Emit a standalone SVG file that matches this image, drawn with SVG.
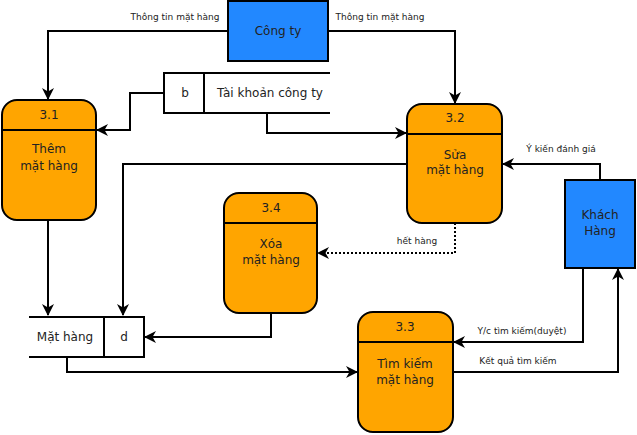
<svg xmlns="http://www.w3.org/2000/svg" width="637" height="435" viewBox="0 0 637 435">
<defs>
<marker id="arr" markerWidth="12" markerHeight="12" viewBox="0 0 12 12" refX="11" refY="6" orient="auto" markerUnits="userSpaceOnUse">
<path d="M0,0 L12,6 L0,12 L3.5,6 z" fill="#000"/>
</marker>
<style>
.proc{fill:#FFA500;stroke:#000;stroke-width:2}
.ent{fill:#2288FF;stroke:#000;stroke-width:2}
.ln{fill:none;stroke:#000;stroke-width:2}
.edge{fill:none;stroke:#000;stroke-width:2;marker-end:url(#arr)}
.dot{stroke-dasharray:2 2}
.t{font-family:"DejaVu Sans",sans-serif;font-size:12px;fill:#222;text-anchor:middle}
.lb{font-family:"DejaVu Sans",sans-serif;font-size:9px;fill:#222;text-anchor:middle}
</style>
</defs>
<rect width="637" height="435" fill="#fff"/>
<g id="connectors">
<path class="edge" d="M228,31 H48 V99"/>
<text class="lb" x="175" y="20">Thông tin mặt hàng</text>
<path class="edge" d="M328,31 H455 V103"/>
<text class="lb" x="380" y="20">Thông tin mặt hàng</text>
<path class="edge" d="M164,93 H130 V130 H97"/>
<path class="edge" d="M267,113 V133 H406"/>
<path class="edge" d="M407,164 H123 V315"/>
<path class="edge" d="M600,180 V164 H503"/>
<text class="lb" x="561" y="152">Ý kiến đánh giá</text>
<path class="edge dot" d="M455,223 V253 H318"/>
<text class="lb" x="417" y="244">hết hàng</text>
<path class="edge" d="M271,313 V337 H145"/>
<path class="edge" d="M48,220 V315"/>
<path class="edge" d="M67,357 V372 H357"/>
<path class="edge" d="M583,268 V342 H454"/>
<text class="lb" x="522" y="334">Y/c tìm kiếm(duyệt)</text>
<path class="edge" d="M453,372 H618 V269"/>
<text class="lb" x="518" y="364">Kết quả tìm kiếm</text>
</g>
<g id="congty">
<rect class="ent" x="228" y="1" width="100" height="60"/>
<text class="t" x="278" y="35">Công ty</text>
</g>
<g id="khachhang">
<rect class="ent" x="565" y="180" width="70" height="88"/>
<text class="t" x="600" y="219">Khách</text>
<text class="t" x="600" y="235">Hàng</text>
</g>
<g id="p31">
<rect class="proc" x="2" y="100" width="94" height="120" rx="15"/>
<line class="ln" x1="2" y1="130" x2="96" y2="130"/>
<text class="t" x="49" y="119">3.1</text>
<text class="t" x="49" y="153">Thêm</text>
<text class="t" x="49" y="170">mặt hàng</text>
</g>
<g id="p32">
<rect class="proc" x="407" y="104" width="95" height="119" rx="15"/>
<line class="ln" x1="407" y1="134" x2="502" y2="134"/>
<text class="t" x="455" y="122">3.2</text>
<text class="t" x="455" y="159">Sửa</text>
<text class="t" x="455" y="174">mặt hàng</text>
</g>
<g id="p34">
<rect class="proc" x="224" y="193" width="93" height="120" rx="15"/>
<line class="ln" x1="224" y1="223" x2="317" y2="223"/>
<text class="t" x="271" y="212">3.4</text>
<text class="t" x="271" y="248">Xóa</text>
<text class="t" x="271" y="264">mặt hàng</text>
</g>
<g id="p33">
<rect class="proc" x="358" y="312" width="95" height="120" rx="15"/>
<line class="ln" x1="358" y1="342" x2="453" y2="342"/>
<text class="t" x="405" y="331">3.3</text>
<text class="t" x="405" y="368">Tìm kiếm</text>
<text class="t" x="405" y="384">mặt hàng</text>
</g>
<g id="taikhoan">
<rect x="164" y="73" width="166" height="40" fill="#fff"/>
<path class="ln" d="M330,73 H164 V113 H330 M204,73 V113"/>
<text class="t" x="185" y="97">b</text>
<text class="t" x="270" y="97">Tài khoản công ty</text>
</g>
<g id="mathang">
<rect x="29" y="317" width="115" height="40" fill="#fff"/>
<path class="ln" d="M29,317 H144 V357 H29 M104,317 V357"/>
<text class="t" x="65" y="341">Mặt hàng</text>
<text class="t" x="124" y="341">d</text>
</g>
</svg>
